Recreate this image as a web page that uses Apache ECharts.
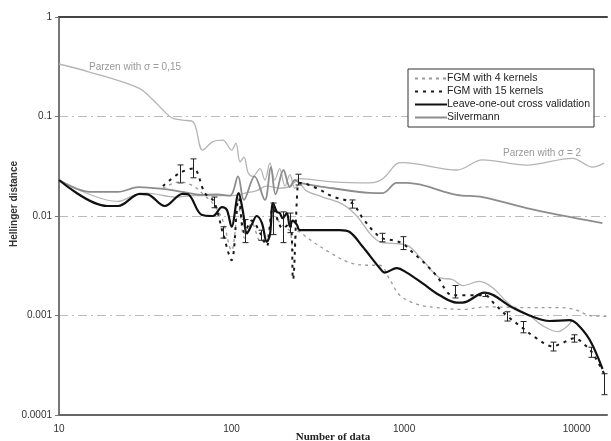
<!DOCTYPE html>
<html>
<head>
<meta charset="utf-8">
<script src="https://cdn.jsdelivr.net/npm/echarts@6/dist/echarts.min.js"></script>
<style>
  html, body { margin: 0; padding: 0; background: #fff; }
  #chart { width: 611px; height: 441px; }
</style>
</head>
<body>
<div id="chart"></div>
<script>
// [number of data, Hellinger distance]
const parzenSmall = [
  [10, 0.337], [15, 0.28], [29, 0.193], [35, 0.147], [45, 0.097], [52, 0.092], [60, 0.088],
  [68, 0.046], [78, 0.056], [89, 0.058], [100, 0.046], [106, 0.054], [112, 0.035], [118, 0.039],
  [125, 0.027], [133, 0.025], [146, 0.03], [156, 0.023], [167, 0.034], [178, 0.023], [190, 0.03],
  [204, 0.02], [218, 0.026], [233, 0.019], [249, 0.021], [270, 0.018], [338, 0.0155], [441, 0.0131],
  [532, 0.01], [632, 0.0067], [722, 0.0055], [859, 0.0053], [1036, 0.0051], [1282, 0.0036],
  [1607, 0.0024], [1911, 0.0023], [2183, 0.002], [2740, 0.0022], [3260, 0.0019], [4080, 0.0013],
  [5330, 0.001], [6350, 0.00079], [7760, 0.00069], [8750, 0.00077], [9460, 0.0009]
]
const parzenLarge = [
  [10, 0.023], [22, 0.014], [27, 0.016], [32, 0.017], [48, 0.0155], [60, 0.016], [80, 0.016],
  [100, 0.016], [120, 0.017], [140, 0.018], [160, 0.02], [190, 0.019], [220, 0.02], [249, 0.0237],
  [386, 0.022], [632, 0.0215], [752, 0.0237], [906, 0.0335], [981, 0.0344], [2018, 0.029],
  [2850, 0.0366], [5130, 0.0325], [9460, 0.038], [12350, 0.031], [14450, 0.034]
]
const silvermann = [
  [10, 0.023], [15, 0.0175], [22, 0.0175], [29, 0.0195], [41, 0.0186], [52, 0.0175], [67, 0.0163],
  [82, 0.0165], [98, 0.016], [109, 0.025], [118, 0.0145], [136, 0.025], [156, 0.0145], [169, 0.031],
  [180, 0.0165], [200, 0.029], [218, 0.0195], [233, 0.023], [249, 0.0215], [386, 0.019],
  [632, 0.0171], [752, 0.017], [906, 0.0215], [1036, 0.0215], [2018, 0.0163], [2850, 0.0155],
  [5130, 0.012], [8000, 0.0102], [14100, 0.0085]
]
const leaveOneOut = [
  [10, 0.023], [19, 0.0126], [22, 0.0126], [29.4, 0.0167], [32.7, 0.0165], [41, 0.0126],
  [52, 0.0167], [56, 0.0165], [67, 0.0103], [78, 0.01], [88, 0.0123], [94, 0.0115], [100, 0.0078],
  [110, 0.017], [116, 0.0115], [123, 0.0067], [131, 0.0082], [140, 0.01], [150, 0.0085],
  [160, 0.0055], [167, 0.0065], [174, 0.0135], [183, 0.011], [190, 0.0107], [198, 0.0095],
  [209, 0.0107], [218, 0.0078], [226, 0.009], [239, 0.0082], [249, 0.0072], [424, 0.0072],
  [484, 0.0069], [576, 0.0049], [722, 0.003], [773, 0.0027], [906, 0.003], [1036, 0.0027],
  [1282, 0.0021], [1607, 0.0016], [2018, 0.00135], [2183, 0.00135], [2930, 0.0017],
  [4256, 0.0012], [5330, 0.001], [6970, 0.00088], [9100, 0.0009], [10000, 0.00083],
  [11900, 0.00057], [14130, 0.00029]
]
const fgm4 = [
  [40, 0.019], [50, 0.022], [60, 0.02], [70, 0.016], [79, 0.013], [89, 0.009], [100, 0.0045],
  [110, 0.012], [119, 0.006], [131, 0.0085], [148, 0.0055], [160, 0.006], [174, 0.01],
  [198, 0.008], [218, 0.007], [227, 0.0045], [242, 0.007], [249, 0.0069], [284, 0.0058],
  [371, 0.0043], [484, 0.0034], [632, 0.0032], [724, 0.0032], [826, 0.0023], [944, 0.0016],
  [1183, 0.0013], [1546, 0.0012], [2183, 0.00115], [3006, 0.00122], [5330, 0.0012],
  [8280, 0.0012], [10000, 0.00113], [11900, 0.001], [15000, 0.00098]
]
const fgm15 = [
  [40, 0.02], [50, 0.027], [60, 0.03], [70, 0.017], [79, 0.014], [89, 0.0068], [100, 0.0036],
  [110, 0.015], [119, 0.0068], [131, 0.009], [148, 0.0065], [160, 0.005], [174, 0.012],
  [198, 0.0075], [218, 0.0085], [227, 0.0023], [242, 0.021], [249, 0.0215], [312, 0.019],
  [386, 0.0157], [498, 0.0135], [576, 0.0095], [657, 0.0072], [742, 0.006], [859, 0.0057],
  [981, 0.0053], [1122, 0.0043], [1282, 0.0035], [1546, 0.0025], [1911, 0.0016], [2397, 0.0016],
  [2930, 0.0016], [3350, 0.0013], [3930, 0.001], [4860, 0.00075], [5860, 0.00059],
  [7250, 0.00049], [8280, 0.00053], [9720, 0.00059], [11400, 0.00049], [12350, 0.00042],
  [14450, 0.00026]
]
// error bars of FGM with 15 kernels: [n, low, high]
const fgm15Err = [
  [50, 0.0215, 0.0326], [60, 0.0242, 0.0375], [79, 0.0121, 0.0155], [89, 0.006, 0.0078],
  [119, 0.0054, 0.0092], [148, 0.0057, 0.0072], [174, 0.0065, 0.0135], [198, 0.0054, 0.011],
  [218, 0.0068, 0.0107], [242, 0.0205, 0.0263], [498, 0.012, 0.0145], [742, 0.0055, 0.0067],
  [981, 0.0046, 0.0062], [1960, 0.0015, 0.002], [2930, 0.00155, 0.00169], [3930, 0.00088, 0.00109],
  [4860, 0.00067, 0.00087], [7250, 0.00044, 0.00054], [9720, 0.00054, 0.00064],
  [12100, 0.00038, 0.00048], [14450, 0.00016, 0.00026]
]
const yTicks = [0.0001, 0.001, 0.01, 0.1, 1]
const xTicks = [10, 100, 1000, 10000]

const chart = echarts.init(document.getElementById('chart'))

const line = (name, data, color, width, type, smooth) => ({
  name,
  type: 'line',
  data,
  symbol: 'none',
  smooth: smooth === undefined ? 0.35 : smooth,
  lineStyle: { color, width, type: type || 'solid' },
  itemStyle: { color },
  z: 2
})

const nearest = (ticks, v) => ticks.find((t) => Math.abs(Math.log10(t) - Math.log10(v)) < 0.01)

const options = {
  backgroundColor: '#fff',
  animation: false,
  grid: { left: 59, right: 4, top: 17, bottom: 26, containLabel: false, outerBoundsMode: 'none' },
  legend: {
    orient: 'vertical',
    left: 408,
    top: 69,
    padding: [4, 4, 4, 6],
    itemGap: 2,
    itemWidth: 32,
    itemHeight: 10,
    backgroundColor: '#fff',
    borderColor: '#333',
    borderWidth: 1,
    itemStyle: { opacity: 0 },
    textStyle: { fontFamily: 'Arial, Liberation Sans', fontSize: 10.5, color: '#222', padding: [0, 0, 0, -5] },
    data: ['FGM with 4 kernels', 'FGM with 15 kernels', 'Leave-one-out cross validation', 'Silvermann']
  },
  xAxis: [
    {
      type: 'log',
      logBase: 10,
      min: 10,
      max: 15000,
      name: 'Number of data',
      nameLocation: 'middle',
      nameGap: 17,
      nameMoveOverlap: false,
      nameTextStyle: { fontFamily: 'Liberation Serif, Times New Roman', fontWeight: 'bold', fontSize: 11, color: '#222' },
      axisLine: { lineStyle: { color: '#666', width: 2 } },
      axisTick: { show: false },
      axisLabel: {
        fontFamily: 'Arial, Liberation Sans',
        fontSize: 10,
        color: '#333',
        margin: 9,
        showMaxLabel: false,
        formatter: (v) => String(nearest(xTicks, v) || '')
      },
      minorTick: { show: false },
      splitLine: { show: false }
    },
    {
      type: 'value',
      position: 'top',
      min: 0,
      max: 1,
      axisLine: { show: true, onZero: false, lineStyle: { color: '#444', width: 2 } },
      axisTick: { show: false },
      axisLabel: { show: false },
      splitLine: { show: false }
    }
  ],
  yAxis: {
    type: 'log',
    logBase: 10,
    min: yTicks[0],
    max: yTicks[yTicks.length - 1],
    name: 'Hellinger distance',
    nameLocation: 'middle',
    nameGap: 40,
    nameMoveOverlap: false,
    nameTextStyle: { fontFamily: 'Arial, Liberation Sans', fontWeight: 'bold', fontSize: 10, color: '#333', padding: [0, 0, 0, 24] },
    axisLine: { show: true, lineStyle: { color: '#777', width: 2 } },
    axisTick: { show: true, length: 4, lineStyle: { color: '#777' } },
    axisLabel: {
      fontFamily: 'Arial, Liberation Sans',
      fontSize: 10,
      color: '#333',
      margin: 7,
      formatter: (v) => String(nearest(yTicks, v) || v)
    },
    splitLine: { lineStyle: { color: '#bbb', width: 1, type: [9, 4, 2, 4] } }
  },
  graphic: [
    { type: 'text', left: 89, top: 62, style: { text: 'Parzen with σ = 0,15', fontFamily: 'Arial, Liberation Sans', fontSize: 10, fill: '#999' } },
    { type: 'text', left: 503, top: 148, style: { text: 'Parzen with σ = 2', fontFamily: 'Arial, Liberation Sans', fontSize: 10, fill: '#999' } }
  ],
  series: [
    line('Parzen with σ = 0,15', parzenSmall, '#b4b4b4', 1.3),
    line('Parzen with σ = 2', parzenLarge, '#b4b4b4', 1.3),
    line('Silvermann', silvermann, '#8c8c8c', 1.8),
    line('FGM with 4 kernels', fgm4, '#9a9a9a', 1.3, [3, 4]),
    line('FGM with 15 kernels', fgm15, '#1a1a1a', 2, [3, 5]),
    line('Leave-one-out cross validation', leaveOneOut, '#111', 2.2),
    {
      name: 'FGM with 15 kernels error',
      type: 'custom',
      data: fgm15Err,
      z: 3,
      renderItem: (params, api) => {
        const lo = api.coord([api.value(0), api.value(1)])
        const hi = api.coord([api.value(0), api.value(2)])
        const x = Math.round(lo[0]) + 0.5
        const style = { stroke: '#222', lineWidth: 1 }
        return {
          type: 'group',
          children: [
            { type: 'line', shape: { x1: x, y1: lo[1], x2: x, y2: hi[1] }, style },
            { type: 'line', shape: { x1: x - 3, y1: lo[1], x2: x + 3, y2: lo[1] }, style },
            { type: 'line', shape: { x1: x - 3, y1: hi[1], x2: x + 3, y2: hi[1] }, style }
          ]
        }
      }
    }
  ]
}

chart.setOption(options)
</script>
</body>
</html>
